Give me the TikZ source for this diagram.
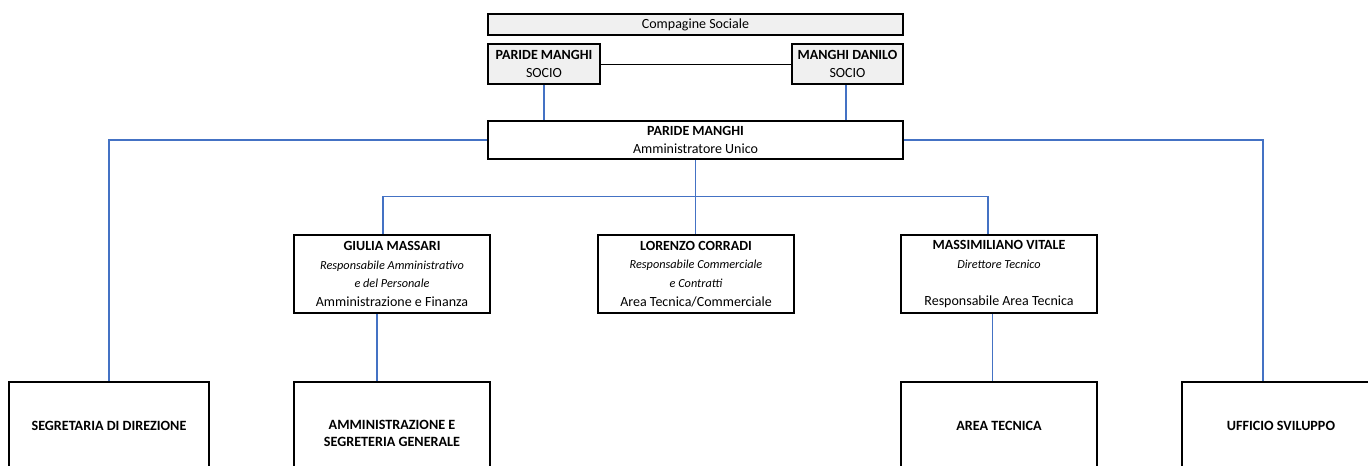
\documentclass[tikz,border=0pt]{standalone}
\usepackage{fontspec}
\setmainfont{Carlito}
\usetikzlibrary{positioning}
\definecolor{linea}{HTML}{4472C4}
\newcommand{\mansione}[1]{{\itshape\fontsize{9.2}{14}\selectfont #1}}

\begin{document}
\begin{tikzpicture}[x=0.75pt,y=-0.75pt,
	box/.style={draw,line width=2.2pt,align=center,inner sep=0pt,font=\fontsize{10.5}{14}\selectfont},
	soci/.style={box,fill=gray!12},
	ruolo/.style={box,minimum width=147pt,minimum height=58.5pt},
	ufficio/.style={box,minimum width=147pt,minimum height=66pt,font=\bfseries\fontsize{10.6}{13}\selectfont},
	link/.style={draw=linea,line width=1.2pt}]
	\useasboundingbox (0,0) rectangle (1368,465);
	
	%SOCI
	\node[soci,minimum width=311.25pt,minimum height=15.75pt] (comp) at (695.5,24.5) {Compagine Sociale};
	\node[soci,minimum width=84pt,minimum height=30pt] (soc1) at (544,64) {\textbf{PARIDE MANGHI}\\SOCIO};
	\node[soci,minimum width=83.25pt,minimum height=30pt] (soc2) at (847.5,64) {\textbf{MANGHI DANILO}\\SOCIO};
	\draw[line width=0.7pt] (soc1.east) -- (soc2.west);
	
	%AMMINISTRATORE
	\node[box,minimum width=311.25pt,minimum height=28.5pt] (au) at (695.5,140) {\textbf{PARIDE MANGHI}\\Amministratore Unico};
	\draw[link] (soc1.south) -- (soc1.south |- au.north);
	\draw[link] ([xshift=-1pt]soc2.south) -- ([xshift=-1pt]soc2.south |- au.north);
	
	%RESPONSABILI
	\node[ruolo] (giu) at (392,274) {\textbf{GIULIA MASSARI}\\\mansione{Responsabile Amministrativo}\\\mansione{e del Personale}\\Amministrazione e Finanza};
	\node[ruolo] (lor) at (696,274) {\textbf{LORENZO CORRADI}\\\mansione{Responsabile Commerciale}\\\mansione{e Contratti}\\Area Tecnica/Commerciale};
	\node[ruolo] (mas) at (999,274) {\textbf{MASSIMILIANO VITALE}\\\mansione{Direttore Tecnico}\\~\\Responsabile Area Tecnica};
	\draw[link] (au.south) -- (au.south |- lor.north);
	\draw[link] ([xshift=-6.75pt]giu.north) -- ++(0,-37) -| ([xshift=-8.25pt]mas.north);
	
	%UFFICI
	\node[ufficio,minimum width=150pt] (segr) at (109,426) {SEGRETARIA DI DIREZIONE};
	\node[ufficio,minimum height=77.25pt] (amm) at (392,433.5) {AMMINISTRAZIONE E\\SEGRETERIA GENERALE};
	\node[ufficio] (area) at (999,426) {AREA TECNICA};
	\node[ufficio,minimum width=148.5pt] (uff) at (1281,426) {UFFICIO SVILUPPO};
	\draw[link] (au.west) -| (segr.north);
	\draw[link] (au.east) -| ([xshift=-13.5pt]uff.north);
	\draw[link] ([xshift=-11.25pt]giu.south) -- ([xshift=-11.25pt]amm.north);
	\draw[link] ([xshift=-5pt]mas.south) -- ([xshift=-5pt]area.north);
\end{tikzpicture}
\end{document}
